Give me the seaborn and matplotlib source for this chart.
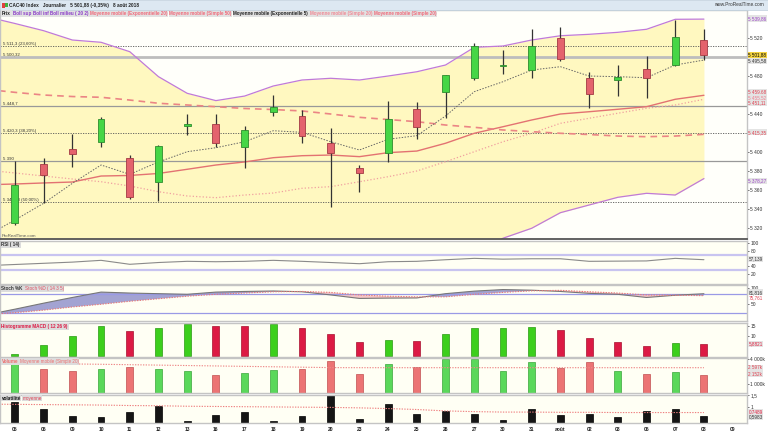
import numpy as np
import matplotlib
matplotlib.use('Agg')
import matplotlib.pyplot as plt
import seaborn as sns
from matplotlib.patches import Rectangle

# ---- data ----
dates = ['05', '06', '09', '10', '11', '12', '13', '16', '17', '18', '19', '20', '23',
         '24', '25', '26', '27', '30', '31', 'août', '02', '03', '06', '07', '08', '09']

opens = [5325.0, 5387.0, 5402.8, 5410.2, 5393.4, 5368.7, 5427.7, 5429.5, 5405.6, 5441.8,
         5437.9, 5409.8, 5382.8, 5398.6, 5445.3, 5463.5, 5477.6, 5490.2, 5486.3, 5519.7,
         5477.6, 5475.8, 5487.0, 5491.6, 5517.9]
highs = [5391.0, 5393.4, 5419.0, 5436.5, 5397.0, 5407.0, 5439.7, 5439.7, 5427.0, 5460.0,
         5444.2, 5425.0, 5386.0, 5453.7, 5452.6, 5481.5, 5514.4, 5507.4, 5529.2, 5531.9,
         5483.9, 5491.6, 5501.4, 5538.9, 5529.5]
lows = [5323.0, 5346.0, 5384.5, 5405.6, 5351.0, 5348.7, 5418.0, 5405.0, 5383.0, 5438.0,
        5409.8, 5341.8, 5358.2, 5389.2, 5414.0, 5435.5, 5475.8, 5482.1, 5477.6, 5495.8,
        5446.0, 5459.3, 5456.5, 5490.5, 5496.8]
closes = [5365.3, 5375.8, 5397.9, 5434.7, 5353.0, 5406.3, 5429.5, 5409.8, 5423.2, 5447.4,
          5417.2, 5398.6, 5378.2, 5434.4, 5426.7, 5480.7, 5511.6, 5491.6, 5511.6, 5497.6,
          5461.1, 5479.0, 5477.6, 5521.4, 5501.9]

# indicator lines start one session earlier (04 juil.), off the left edge
boll_up = [5542.5, 5535.3, 5527.7, 5517.9, 5515.5, 5505.6, 5479.3, 5461.8, 5454.1, 5458.9,
           5469.5, 5475.8, 5477.6, 5475.8, 5480.0, 5484.5, 5491.6, 5510.2, 5511.6, 5517.9,
           5522.4, 5523.9, 5526.0, 5529.2, 5539.7, 5539.9]
boll_mid = [5381.0, 5377.9, 5374.7, 5371.6, 5368.7, 5364.2, 5358.2, 5353.7, 5351.9, 5354.7,
            5356.8, 5361.8, 5363.5, 5368.7, 5374.0, 5380.0, 5389.8, 5400.3, 5410.8, 5419.7,
            5430.2, 5435.5, 5440.8, 5446.0, 5449.5, 5455.5]
boll_low = [5219.5, 5220.5, 5221.7, 5225.3, 5221.9, 5222.8, 5237.1, 5245.6, 5249.7, 5250.5,
            5244.1, 5247.8, 5249.4, 5261.6, 5268.0, 5275.5, 5288.0, 5290.4, 5309.2, 5319.7,
            5336.1, 5344.2, 5352.3, 5356.5, 5354.7, 5372.0]
ema20 = [5365.5, 5366.3, 5367.4, 5368.4, 5374.7, 5375.3, 5377.4, 5381.8, 5386.3, 5389.5,
         5394.0, 5396.1, 5396.8, 5395.1, 5399.3, 5401.0, 5409.2, 5419.7, 5426.6, 5433.7,
         5440.0, 5442.4, 5445.0, 5447.7, 5455.5, 5459.7]
sma50 = [5466.0, 5462.8, 5460.0, 5458.4, 5457.6, 5454.7, 5451.3, 5449.5, 5447.7, 5445.8,
         5444.7, 5443.2, 5440.0, 5436.5, 5434.2, 5431.9, 5428.4, 5426.0, 5423.2, 5421.4,
         5419.7, 5418.4, 5416.8, 5416.1, 5416.8, 5418.6]
ema5 = [5311.6, 5328.4, 5346.0, 5367.0, 5386.3, 5376.5, 5389.5, 5400.3, 5404.5, 5410.8,
        5422.4, 5420.7, 5410.8, 5402.1, 5413.4, 5417.2, 5437.9, 5463.5, 5474.0, 5486.3,
        5489.8, 5480.0, 5479.3, 5478.2, 5491.6, 5496.8]

rsi = [42, 45, 48, 51, 55.5, 45.5, 50, 53, 52, 53, 55.5, 53, 50, 47, 52, 53, 57, 60.5,
       58.5, 59.5, 59.5, 53, 53.5, 54, 60.5, 57.1]
stoch_k = [15, 33, 52, 70, 87, 84, 82, 80, 87, 89, 90.5, 88, 78, 67, 68, 68.5, 82, 90, 95,
           93, 89, 83, 80, 70, 77, 81.8]
stoch_d = [16, 22, 30, 40, 48.6, 58, 66, 74, 80, 84, 88, 89, 86, 78, 74, 72, 72, 80, 86,
           91, 92.5, 88, 84, 78, 77, 75.8]

macd_hist = [1.0, 5.4, 9.9, 14.8, 12.3, 13.6, 15.6, 14.8, 14.8, 15.6, 13.6, 10.7, 6.7, 7.9,
             7.5, 10.7, 13.6, 13.6, 14.1, 12.8, 8.9, 6.9, 5.1, 6.3, 5.88]
macd_up = [True, True, True, True, False, True, True, False, False, True, False, False,
           False, True, False, True, True, True, True, False, False, False, False, True, False]

volume_k = [3710, 2870, 2630, 2870, 3110, 2870, 2630, 2110, 2320, 2710, 2830, 3790, 2230,
            3430, 3110, 4030, 4030, 2590, 3710, 2910, 3710, 2590, 2230, 2470, 2152]
volume_ma = [3540, 3520, 3480, 3440, 3400, 3350, 3300, 3250, 3200, 3150, 3100, 3050, 3000,
             2990, 2990, 2990, 2990, 2990, 2990, 2990, 2990, 2990, 2990, 2990, 2990, 2990]

volat = [1.21, 0.89, 0.62, 0.57, 0.76, 1.03, 0.39, 0.63, 0.79, 0.39, 0.62, 1.49, 0.47, 1.12,
         0.69, 0.82, 0.69, 0.44, 0.90, 0.63, 0.67, 0.57, 0.82, 0.89, 0.598]
volat_ma = [1.11, 1.10, 1.09, 1.08, 1.07, 1.05, 1.04, 1.02, 1.01, 1.00, 0.99, 0.98, 0.97,
            0.95, 0.92, 0.88, 0.82, 0.79, 0.77, 0.77, 0.76, 0.76, 0.75, 0.75, 0.75, 0.75]

fib_levels = [5511.3, 5420.3, 5347.38]
fib_labels = ['5 511,3 (23,60%)', '5 420,3 (38,20%)', '5 347,38 (50,00%)']
hlines = [5500.32, 5448.7, 5390.0]
hline_labels = ['5 500,32', '5 448,7', '5 390']

# ---- style ----
sns.set_theme(style='white')
plt.rcParams['font.family'] = ['Liberation Sans', 'DejaVu Sans']

W, H = 768, 432
fig = plt.figure(figsize=(W / 100, H / 100), dpi=100, facecolor='white')

x = np.arange(len(closes))
xl = np.arange(-1, len(closes))
XLIM = (-0.52, 25.5)
GREEN, RED = '#46d646', '#e4636d'
PANEL_BG = '#fffff4'
SMALL = 3.5


def panel(top, bottom):
    ax = fig.add_axes([0, 1 - bottom / H, 747 / W, (bottom - top) / H])
    ax.set_facecolor(PANEL_BG)
    ax.set_xlim(*XLIM)
    ax.set_xticks([])
    for s in ax.spines.values():
        s.set_color('#c4c4c4')
        s.set_linewidth(1.0)
    ax.yaxis.tick_right()
    ax.tick_params(axis='y', labelsize=SMALL, length=1.5, width=0.5, pad=1,
                   colors='#333333', right=True)
    return ax


def value_tag(ax, y, s, fc, tc):
    ax.text(1.002, y, s, transform=ax.get_yaxis_transform(), fontsize=3.3, color=tc,
            va='center', ha='left', clip_on=False,
            bbox=dict(boxstyle='square,pad=0.12', fc=fc, ec='none'))


def panel_title(ax, parts):
    prev = None
    for s, c in parts:
        if prev is None:
            prev = ax.annotate(s, xy=(0.002, 0.96), xycoords='axes fraction', va='top',
                               ha='left', fontsize=3.3, color=c, fontweight='bold',
                               bbox=dict(boxstyle='square,pad=0.15', fc='#dcdcdc', ec='none'))
        else:
            prev = ax.annotate(s, xy=(1, 0), xycoords=prev, xytext=(1.2, 0),
                               textcoords='offset points', va='bottom', ha='left',
                               fontsize=3.3, color=c,
                               bbox=dict(boxstyle='square,pad=0.15', fc='#dcdcdc', ec='none'))


# ---- price panel ----
ax = panel(10, 239)
ax.set_facecolor('#fffffa')
ax.set_ylim(5308.4, 5549.5)
ax.fill_between(xl, boll_low, boll_up, color='#fff8c0', lw=0, zorder=0)
sns.lineplot(x=xl, y=boll_up, ax=ax, color='#c07ad8', lw=0.9, zorder=2)
sns.lineplot(x=xl, y=boll_low, ax=ax, color='#c07ad8', lw=0.9, zorder=2)
sns.lineplot(x=xl, y=boll_mid, ax=ax, color='#f0a0a0', lw=0.9, linestyle=':', zorder=2)
sns.lineplot(x=xl, y=ema20, ax=ax, color='#e37272', lw=1.0, zorder=2)
sns.lineplot(x=xl, y=sma50, ax=ax, color='#eb8585', lw=1.2, linestyle=(0, (4, 3)), zorder=2)
sns.lineplot(x=xl, y=ema5, ax=ax, color='#666666', lw=0.7, linestyle=(0, (1.5, 1.5)), zorder=2)

for v, lab in zip(fib_levels, fib_labels):
    ax.axhline(v, color='#555555', lw=0.6, ls=(0, (1.5, 1.5)), zorder=1)
    ax.annotate(lab, xy=(0.004, v), xycoords=('axes fraction', 'data'), xytext=(0, 1.3),
                textcoords='offset points', va='center', fontsize=3.2, color='#333333')
for v, lab, lw, c in zip(hlines, hline_labels, [2.0, 0.9, 0.9], ['#bdbdbd', '#999999', '#999999']):
    ax.axhline(v, color=c, lw=lw, zorder=1)
    ax.annotate(lab, xy=(0.004, v), xycoords=('axes fraction', 'data'), xytext=(0, 1.7),
                textcoords='offset points', va='center', fontsize=3.2, color='#333333')

up = np.array(closes) >= np.array(opens)
body_lo = np.minimum(opens, closes)
body_h = np.maximum(np.abs(np.array(closes) - np.array(opens)), 0.9)
ax.vlines(x, lows, highs, color='#333333', lw=0.9, zorder=3)
ax.bar(x, body_h, bottom=body_lo, width=0.24, color=np.where(up, GREEN, RED),
       edgecolor=np.where(up, '#2e8c2e', '#a33a44'), lw=0.6, zorder=4)

ax.set_yticks([5520, 5480, 5440, 5400, 5380, 5360, 5340, 5320])
ax.set_yticklabels(['5 520', '5 480', '5 440', '5 400', '5 380', '5 360', '5 340', '5 320'])
ax.spines['bottom'].set_color('#555555')
ax.spines['bottom'].set_linewidth(1.3)
value_tag(ax, 5540.5, '5 539,86', '#e4e4e4', '#9b42c8')
value_tag(ax, 5502.5, '5 501,88', '#f5d442', '#000000')
value_tag(ax, 5495.8, '5 495,58', '#e4e4e4', '#333333')
value_tag(ax, 5463.0, '5 459,68', '#e4e4e4', '#e04050')
value_tag(ax, 5457.5, '5 455,52', '#e4e4e4', '#f08090')
value_tag(ax, 5452.0, '5 451,11', '#e4e4e4', '#e04050')
value_tag(ax, 5420.7, '5 415,35', '#e4e4e4', '#e04050')
value_tag(ax, 5369.5, '5 378,27', '#e4e4e4', '#9b42c8')
ax.text(0.002, 0.004, 'ProRealTime.com', transform=ax.transAxes, fontsize=3.2,
        color='#555555', va='bottom')

# ---- RSI ----
ax = panel(240.5, 283.5)
ax.set_ylim(-3, 105.6)
ax.axhline(70, color='#c8c4f0', lw=1.6)
ax.axhline(30, color='#c8c4f0', lw=1.6)
sns.lineplot(x=xl, y=rsi, ax=ax, color='#8a8a8a', lw=0.8)
ax.set_yticks([100, 80, 40, 20])
ax.set_yticklabels(['100', '80', '40', '20'])
value_tag(ax, 59.5, '57,139', '#e4e4e4', '#333333')
panel_title(ax, [('RSI ( 14)', '#333333')])

# ---- Stochastic ----
ax = panel(285, 321)
ax.set_ylim(-4.3, 109.4)
ax.axhline(80, color='#9a9ae6', lw=0.9)
ax.axhline(20, color='#9a9ae6', lw=0.9)
k = np.array(stoch_k, dtype=float)
d = np.array(stoch_d, dtype=float)
ax.fill_between(xl, k, d, where=k >= d, interpolate=True, color='#a3a3d2', lw=0)
ax.fill_between(xl, k, d, where=k < d, interpolate=True, color='#f6c6c6', lw=0)
sns.lineplot(x=xl, y=k, ax=ax, color='#777777', lw=0.8)
sns.lineplot(x=xl, y=d, ax=ax, color='#e87878', lw=0.8, linestyle=(0, (1.2, 1.2)))
ax.set_yticks([100, 50])
ax.set_yticklabels(['100', '50'])
value_tag(ax, 86, '81,816', '#e4e4e4', '#333333')
value_tag(ax, 70, '75,761', 'none', '#e04050')
panel_title(ax, [('Stoch %K', '#333333'), ('Stoch %D ( 14 3 5)', '#e05060')])

# ---- MACD histogram ----
ax = panel(322.5, 356.5)
ax.set_ylim(-0.25, 16.5)
ax.bar(x, macd_hist, width=0.24, color=np.where(macd_up, '#3ccf1c', '#dc1a44'),
       edgecolor=np.where(macd_up, '#2a9a12', '#a8102f'), lw=0.5)
ax.set_yticks([15, 10])
ax.set_yticklabels(['15', '10'])
value_tag(ax, 5.88, '5,8821', '#e4e4e4', '#e02040')
panel_title(ax, [('Histogramme MACD ( 12 26 9)', '#dc1a44')])

# ---- Volume ----
ax = panel(357.5, 393)
ax.set_ylim(-48, 4214)
ax.bar(x, volume_k, width=0.24, color=np.where(up, '#5ad85a', '#ec7474'),
       edgecolor=np.where(up, '#3aa53a', '#c05050'), lw=0.5)
sns.lineplot(x=xl, y=volume_ma, ax=ax, color='#ee8888', lw=0.8, linestyle=(0, (1.2, 1.2)))
ax.set_yticks([4000, 1000])
ax.set_yticklabels(['4 000k', '1 000k'])
value_tag(ax, 3000, '2 597k', '#e4e4e4', '#e04050')
value_tag(ax, 2210, '2 152k', '#e4e4e4', '#e04050')
panel_title(ax, [('Volume', '#ee7070'), ('Moyenne mobile (Simple 20)', '#ee7070')])

# ---- Volatilité ----
ax = panel(394.5, 422.5)
ax.set_ylim(0.325, 1.521)
ax.bar(x, volat, width=0.24, color='#151515', edgecolor='#000000', lw=0.5)
sns.lineplot(x=xl, y=volat_ma, ax=ax, color='#ee8080', lw=0.8, linestyle=(0, (1.2, 1.2)))
ax.set_yticks([1.5, 1.0])
ax.set_yticklabels(['1,5', '1'])
value_tag(ax, 0.77, '0,7489', '#e4e4e4', '#e02040')
value_tag(ax, 0.56, '0,5983', '#e4e4e4', '#333333')
panel_title(ax, [('volatilité', '#111111'), ('moyenne', '#e04050')])
ax.set_xticks(np.arange(len(dates)))
ax.set_xticklabels(dates, fontweight='bold')
ax.tick_params(axis='x', labelsize=3.6, length=0, pad=3, colors='#222222', bottom=True)

# ---- header bars ----
fig.patches.append(Rectangle((0, 1 - 9.5 / H), 1, 9.5 / H, transform=fig.transFigure,
                             fc='#dde8f2', ec='#c0cfdc', lw=0.5, zorder=0))
fig.patches.append(Rectangle((2 / W, 1 - 8 / H), 2.5 / W, 5 / H, transform=fig.transFigure,
                             fc='#e04040', ec='none'))
fig.patches.append(Rectangle((5 / W, 1 - 7 / H), 2.5 / W, 4 / H, transform=fig.transFigure,
                             fc='#40b040', ec='none'))
fig.text(9 / W, 1 - 5 / H, 'CAC40 Index   Journalier   5 501,88 (-0,35%)   8 août 2018',
         fontsize=3.4, va='center', ha='left', color='#222222', fontweight='bold')
fig.text(0.995, 1 - 5 / H, 'www.ProRealTime.com', fontsize=3.4, va='center', ha='right',
         color='#333333')

legend_parts = [('Prix', '#222222'), ('Boll sup', '#8a3cc8'), ('Boll inf', '#8a3cc8'),
                ('Boll milieu ( 20 2)', '#8a3cc8'),
                ('Moyenne mobile (Exponentielle 20)', '#f06a7a'),
                ('Moyenne mobile (Simple 50)', '#f06a7a'),
                ('Moyenne mobile (Exponentielle 5)', '#222222'),
                ('Moyenne mobile (Simple 20)', '#f08a96'),
                ('Moyenne mobile (Simple 20)', '#f06a7a')]
prev = None
for s, c in legend_parts:
    if prev is None:
        prev = fig.text(2 / W, 1 - 13.5 / H, s, fontsize=3.3, color=c, fontweight='bold',
                        va='center', ha='left',
                        bbox=dict(boxstyle='square,pad=0.15', fc='#e2e2e2', ec='none'))
    else:
        prev = fig.axes[0].annotate(s, xy=(1, 0), xycoords=prev, xytext=(1.2, 0),
                                    textcoords='offset points', va='bottom', ha='left',
                                    fontsize=3.3, color=c, fontweight='bold',
                                    annotation_clip=False,
                                    bbox=dict(boxstyle='square,pad=0.15', fc='#e2e2e2', ec='none'))

fig.savefig('out.png', dpi=100, facecolor=fig.get_facecolor())
